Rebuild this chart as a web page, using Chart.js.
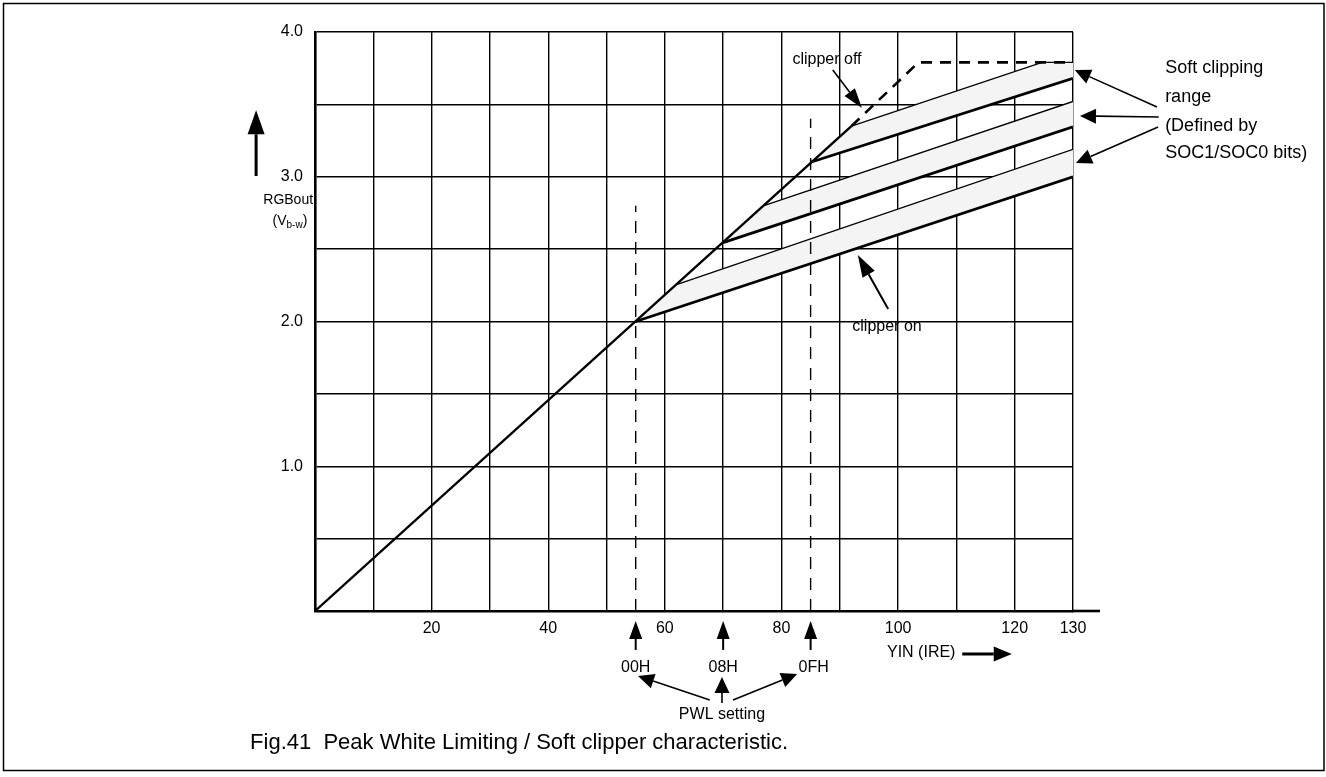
<!DOCTYPE html>
<html>
<head>
<meta charset="utf-8">
<title>Peak White Limiting / Soft clipper characteristic</title>
<script src="https://cdn.jsdelivr.net/npm/chart.js@4.4.1/dist/chart.umd.min.js"></script>
<style>
  html, body { margin: 0; padding: 0; background: #fff; }
  #wrap { width: 1326px; height: 777px; }
</style>
</head>
<body>
<div id="wrap"><canvas id="pwlChart" width="1326" height="777"></canvas></div>
<script>
// ---- data ----
const xTicks = [0, 10, 20, 30, 40, 50, 60, 70, 80, 90, 100, 110, 120, 130];
const xLabelled = [20, 40, 60, 80, 100, 120, 130];
const yLabelled = [1, 2, 3, 4];

// PWL setting knees: 00H, 08H, 0FH
const pwlNames = ['00H', '08H', '0FH'];
const kneeX = [55, 70, 85];

// clipper off: straight line, then dashed up into saturation
const clipOffSolid = [[0, 0], [92, 3.35]];
const clipOffDashed = [[92, 3.35], [103.5, 3.79], [130, 3.79]];

// soft clipping ranges (lower = clipper on, upper = edge of range)
const bandLower = [
  [[55, 2.0], [130, 3.0]],
  [[70, 2.545], [130, 3.345]],
  [[85, 3.1], [130, 3.68]]
];
const bandUpper = [
  [[62, 2.255], [130, 3.19]],
  [[77, 2.8], [130, 3.52]],
  [[92, 3.35], [124.7, 3.79], [130, 3.79]]
];

// dashed guide lines above the 00H and 0FH knees
const guideX = [55, 85];
const guideTop = [2.8, 3.4];

const FONT = '"Liberation Sans", Arial, sans-serif';

function pts(arr) {
  return arr.map(p => ({x: p[0], y: p[1]}));
}

const datasets = [];

// main clipper-off line
datasets.push({
  data: pts(clipOffSolid), borderColor: '#000', borderWidth: 2.4, order: 1
});
datasets.push({
  data: pts(clipOffDashed), borderColor: '#000', borderWidth: 2.6,
  borderDash: [11, 8], order: 1
});

// band outlines
for (let i = 0; i < bandLower.length; i++) {
  datasets.push({
    data: pts(bandLower[i]), borderColor: '#000', borderWidth: 2.8, order: 1
  });
  datasets.push({
    data: pts(bandUpper[i]), borderColor: '#000', borderWidth: 1.3, order: 1
  });
}

// vertical dashed guides
for (let i = 0; i < guideX.length; i++) {
  datasets.push({
    data: [{x: guideX[i], y: 0}, {x: guideX[i], y: guideTop[i]}],
    borderColor: '#000', borderWidth: 1.4, borderDash: [12, 9], order: 2
  });
}

// band fills (closed shapes, drawn first so they hide the grid)
for (let i = 0; i < bandLower.length; i++) {
  const shape = pts(bandLower[i]).concat(pts(bandUpper[i].slice().reverse()));
  shape.push(shape[0]);
  datasets.push({
    data: shape, borderColor: 'rgba(0,0,0,0)', borderWidth: 0,
    backgroundColor: '#f4f4f4', fill: 'shape', order: 5
  });
}

datasets.forEach(d => {
  d.showLine = true;
  d.pointRadius = 0;
  d.tension = 0;
});

function arrow(ctx, x1, y1, x2, y2, headLen, headW, lw) {
  const a = Math.atan2(y2 - y1, x2 - x1);
  const bx = x2 - headLen * Math.cos(a);
  const by = y2 - headLen * Math.sin(a);
  ctx.save();
  ctx.strokeStyle = '#000';
  ctx.fillStyle = '#000';
  ctx.lineWidth = lw;
  ctx.setLineDash([]);
  ctx.beginPath();
  ctx.moveTo(x1, y1);
  ctx.lineTo(bx, by);
  ctx.stroke();
  ctx.beginPath();
  ctx.moveTo(x2, y2);
  ctx.lineTo(bx + headW / 2 * Math.sin(a), by - headW / 2 * Math.cos(a));
  ctx.lineTo(bx - headW / 2 * Math.sin(a), by + headW / 2 * Math.cos(a));
  ctx.closePath();
  ctx.fill();
  ctx.restore();
}

const notes = {
  id: 'notes',
  afterDraw(chart) {
    const ctx = chart.ctx;
    const xs = chart.scales.x, ys = chart.scales.y;
    const X = v => xs.getPixelForValue(v);
    const Y = v => ys.getPixelForValue(v);
    const area = chart.chartArea;

    ctx.save();
    // axis runs on past 130
    ctx.strokeStyle = '#000';
    ctx.lineWidth = 2.6;
    ctx.beginPath();
    ctx.moveTo(area.right - 1, area.bottom);
    ctx.lineTo(area.right + 27, area.bottom);
    ctx.stroke();

    // frame round the figure
    ctx.lineWidth = 1.5;
    ctx.strokeRect(3.5, 3.5, chart.width - 5.5, chart.height - 10);

    ctx.fillStyle = '#000';
    ctx.textBaseline = 'middle';

    // clipper off / clipper on
    ctx.font = '16px ' + FONT;
    ctx.textAlign = 'center';
    ctx.fillText('clipper off', X(87.8), Y(3.807));
    arrow(ctx, X(88.8), Y(3.737), X(93.8), Y(3.475), 20, 13, 1.6);
    ctx.fillText('clipper on', X(98.1), Y(1.962));
    arrow(ctx, X(98.3), Y(2.086), X(93.1), Y(2.459), 22, 14, 2);

    // soft clipping range
    ctx.font = '18px ' + FONT;
    ctx.textAlign = 'left';
    const softLines = ['Soft clipping', 'range', '(Defined by', 'SOC1/SOC0 bits)'];
    const softY = [3.751, 3.551, 3.351, 3.164];
    softLines.forEach((t, i) => ctx.fillText(t, X(145.8), Y(softY[i])));
    arrow(ctx, X(144.4), Y(3.482), X(130.3), Y(3.737), 16, 15, 1.6);
    arrow(ctx, X(144.7), Y(3.413), X(131.2), Y(3.42), 16, 15, 1.6);
    arrow(ctx, X(144.6), Y(3.344), X(130.5), Y(3.095), 16, 15, 1.6);

    // PWL setting arrows under the axis
    ctx.font = '16px ' + FONT;
    ctx.textAlign = 'center';
    kneeX.forEach((k, i) => {
      arrow(ctx, X(k), Y(-0.269), X(k), Y(-0.069), 18, 13, 2);
      ctx.fillText(pwlNames[i], X(k) + (i === 2 ? 3 : 0), Y(-0.394));
    });
    ctx.fillText('PWL setting', X(69.8), Y(-0.718));
    arrow(ctx, X(67.7), Y(-0.615), X(55.4), Y(-0.449), 16, 15, 1.6);
    arrow(ctx, X(69.8), Y(-0.636), X(69.8), Y(-0.456), 16, 15, 1.6);
    arrow(ctx, X(71.7), Y(-0.615), X(82.7), Y(-0.435), 16, 15, 1.6);

    // x axis title
    ctx.textAlign = 'left';
    ctx.fillText('YIN (IRE)', X(98.1), Y(-0.29));
    arrow(ctx, X(111), Y(-0.297), X(119.5), Y(-0.297), 18, 15, 3);

    // y axis title
    arrow(ctx, X(-10.1), Y(3.005), X(-10.1), Y(3.46), 24, 17, 3);
    ctx.textAlign = 'center';
    ctx.font = '14px ' + FONT;
    ctx.fillText('RGBout', X(-4.6), Y(2.84));
    const yb = Y(2.69);
    const w1 = ctx.measureText('(V').width;
    ctx.font = '10px ' + FONT;
    const w2 = ctx.measureText('b-w').width;
    ctx.font = '14px ' + FONT;
    const w3 = ctx.measureText(')').width;
    let sx = X(-4.3) - (w1 + w2 + w3) / 2;
    ctx.textAlign = 'left';
    ctx.fillText('(V', sx, yb);
    ctx.font = '10px ' + FONT;
    ctx.fillText('b-w', sx + w1, yb + 4);
    ctx.font = '14px ' + FONT;
    ctx.fillText(')', sx + w1 + w2, yb);

    // caption
    ctx.font = '22px ' + FONT;
    ctx.textAlign = 'center';
    ctx.fillText('Fig.41  Peak White Limiting / Soft clipper characteristic.', X(35), Y(-0.912));
    ctx.restore();
  }
};

new Chart(document.getElementById('pwlChart'), {
  type: 'scatter',
  data: {datasets: datasets},
  options: {
    responsive: false,
    devicePixelRatio: 1,
    animation: false,
    layout: {padding: {left: 0, right: 253, top: 32, bottom: 0}},
    plugins: {legend: {display: false}, tooltip: {enabled: false}},
    scales: {
      x: {
        type: 'linear', min: 0, max: 130,
        afterBuildTicks: axis => { axis.ticks = xTicks.map(v => ({value: v})); },
        afterFit: axis => { axis.height = 166; },
        ticks: {
          color: '#000', padding: 8, maxRotation: 0, autoSkip: false,
          font: {family: FONT, size: 16},
          callback: v => xLabelled.includes(v) ? String(v) : ''
        },
        grid: {color: '#000', lineWidth: 1.4, drawTicks: false},
        border: {display: true, color: '#000', width: 2.6}
      },
      y: {
        type: 'linear', min: 0, max: 4,
        ticks: {
          stepSize: 0.5, color: '#000', padding: 12,
          font: {family: FONT, size: 16},
          callback: v => yLabelled.includes(v) ? v.toFixed(1) : ''
        },
        afterFit: axis => { axis.width = 315; },
        grid: {color: '#000', lineWidth: 1.4, drawTicks: false},
        border: {display: true, color: '#000', width: 2.6}
      }
    }
  },
  plugins: [notes]
});
</script>
</body>
</html>
